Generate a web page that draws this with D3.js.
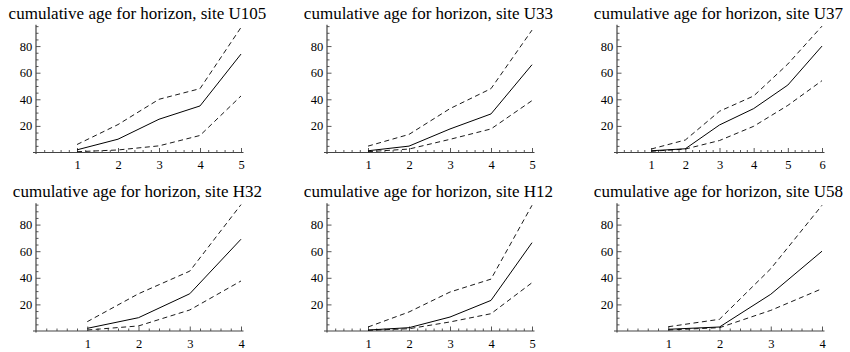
<!DOCTYPE html>
<html>
<head>
<meta charset="utf-8">
<script src="https://cdn.jsdelivr.net/npm/d3@7"></script>
<style>
  html, body { margin: 0; padding: 0; background: #fff; }
  svg { display: block; }
  text { font-family: "Liberation Serif", "Times New Roman", serif; fill: #000; }
</style>
</head>
<body>
<svg id="chart" width="850" height="352"></svg>
<script>
// Sites, one panel each (read row by row)
const sites = ["U105", "U33", "U37", "H32", "H12", "U58"];

// Cumulative age per horizon: central estimate
const ageMid = [
  [2, 10, 25, 35, 74],
  [1.3, 4.8, 17.7, 29, 66],
  [1.3, 2.8, 20.7, 33, 50.7, 80],
  [2, 10, 28, 69],
  [0.75, 2.5, 10.5, 23, 66.4],
  [1.3, 3, 27.6, 60]
];

// Upper bound
const ageUpper = [
  [6, 21, 40, 48, 94],
  [4.8, 13.6, 33, 48, 92],
  [2.6, 9.4, 31, 42.5, 66.5, 95],
  [7, 28, 45, 95],
  [3, 14.3, 29.3, 39, 94.5],
  [3.2, 8.8, 46.8, 94.5]
];

// Lower bound
const ageLower = [
  [0.6, 1.9, 5, 12.8, 42.5],
  [0.6, 2.6, 9.9, 17.7, 39],
  [0.9, 2.6, 9, 19.7, 35.4, 54],
  [0.75, 3.8, 15.8, 37.6],
  [0.5, 1.7, 6.8, 13, 36.3],
  [0.75, 2.5, 15.5, 31.8]
];

const yTickValues = [20, 40, 60, 80];
const yMax = 96;

const svg = d3.select("#chart");

const colX = [36, 327, 617];   // x position of the y axis in each column
const rowY = [152.5, 331];     // y position of the x axis in each row
const plotW = 205;
const plotH = 127.7;
const axisColor = "#444";
const serif = '"Liberation Serif", "Times New Roman", serif';

sites.forEach((site, i) => {
  const col = i % 3, row = Math.floor(i / 3);
  const x0 = colX[col], y0 = rowY[row];
  const n = ageMid[i].length;
  const horizons = d3.range(1, n + 1);

  const x = d3.scaleLinear().domain([0, n]).range([x0, x0 + plotW]);
  const y = d3.scaleLinear().domain([0, yMax]).range([y0, y0 - plotH]);

  const g = svg.append("g");

  // Title, centred over the plot
  g.append("text")
    .attr("x", x0 + plotW / 2 - 1)
    .attr("y", y0 - 134)
    .attr("text-anchor", "middle")
    .style("font-family", serif)
    .style("font-size", "17px")
    .text("cumulative age for horizon, site " + site);

  // x axis: minor ticks every 0.2, major ticks with labels on integers
  const xMinor = d3.range(1, n * 5 + 1).map(k => k / 5).filter(v => Math.abs(v - Math.round(v)) > 1e-6);
  const gxMinor = g.append("g").attr("transform", `translate(0,${y0})`)
    .call(d3.axisBottom(x).tickValues(xMinor).tickSize(-2.5).tickFormat(""));
  const gx = g.append("g").attr("transform", `translate(0,${y0})`)
    .call(d3.axisBottom(x).tickValues(horizons).tickSize(-4.5).tickPadding(8).tickFormat(d3.format("d")));

  // y axis: minor ticks every 5, labelled ticks every 20
  const yMinor = d3.range(5, yMax, 5).filter(v => v % 20 !== 0);
  const gyMinor = g.append("g").attr("transform", `translate(${x0},0)`)
    .call(d3.axisLeft(y).tickValues(yMinor).tickSize(-2.5).tickFormat(""));
  const gy = g.append("g").attr("transform", `translate(${x0},0)`)
    .call(d3.axisLeft(y).tickValues(yTickValues).tickSize(-4.5).tickPadding(3.8).tickFormat(d3.format("d")));

  [gxMinor, gx, gyMinor, gy].forEach(a => {
    a.attr("font-family", null);
    a.select(".domain").remove();
    a.selectAll(".tick line").attr("stroke", axisColor).attr("stroke-width", 0.9);
    a.selectAll(".tick text")
      .style("font-family", serif)
      .style("font-size", "12.5px")
      .attr("fill", "#000");
  });

  // Axis lines
  g.append("line")
    .attr("x1", x(0) - 3).attr("x2", x(n) + 2.5)
    .attr("y1", y0).attr("y2", y0)
    .attr("stroke", axisColor).attr("stroke-width", 1.2);
  g.append("line")
    .attr("x1", x0).attr("x2", x0)
    .attr("y1", y0 + 1.5).attr("y2", y(yMax))
    .attr("stroke", axisColor).attr("stroke-width", 1.2);

  const line = d3.line()
    .x((d, k) => x(k + 1))
    .y(d => y(d));

  // Bounds (dashed) and central estimate (solid)
  [ageUpper[i], ageLower[i]].forEach(vals => {
    g.append("path")
      .datum(vals)
      .attr("d", line)
      .attr("fill", "none")
      .attr("stroke", "#000")
      .attr("stroke-width", 0.9)
      .attr("stroke-dasharray", "5,3.5");
  });
  g.append("path")
    .datum(ageMid[i])
    .attr("d", line)
    .attr("fill", "none")
    .attr("stroke", "#000")
    .attr("stroke-width", 1);
});
</script>
</body>
</html>
